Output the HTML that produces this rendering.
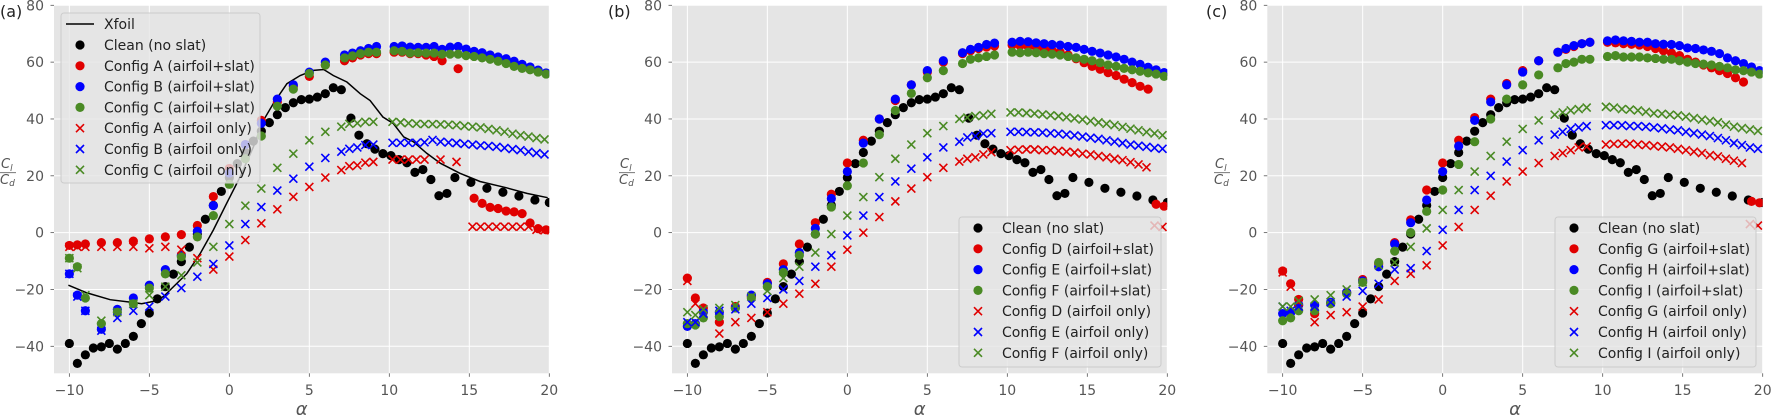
<!DOCTYPE html>
<html><head><meta charset="utf-8"><style>
html,body{margin:0;padding:0;background:#fff;}
svg{display:block;font-family:"DejaVu Sans","Liberation Sans",sans-serif;}
</style></head><body>
<svg id="fig" width="1771" height="418" viewBox="0 0 1771 418" xmlns="http://www.w3.org/2000/svg"></svg>
<script>
// ---- data ----
const alphaClean = [-10,-9.5,-9,-8.5,-8,-7.5,-7,-6.5,-6,-5.5,-5,-4.5,-4,-3.5,-3,-2.5,-2,-1.5,-1,-0.5,0,0.5,1,1.5,2,2.5,3,3.5,4,4.5,5,5.5,6,6.5,7,7.6,8.1,8.6,9.1,9.6,10.1,10.6,11.1,11.6,12.1,12.6,13.1,13.6,14.1,15.1,16.1,17.1,18.1,19.1,20];
const cleanVals = [-39,-46,-43,-40.6,-40.2,-39,-41,-39,-36.5,-32,-28.3,-23.3,-19,-14.6,-10.2,-5.1,-0.5,4.7,9.6,14.5,19.4,24.3,28.2,32.2,35.7,38.7,41.5,44,45.7,46.8,47,47.7,48.9,51,50.3,40.3,34.3,31.3,29.4,27.8,27.1,25.7,24.6,21.2,22.2,18.7,13,13.8,19.4,17.7,15.6,14.2,12.9,11.5,10.6];
const alphaSlat = [-10,-9.5,-9,-8,-7,-6,-5,-4,-3,-2,-1,0,1,2,3,4,5,6,7.2,7.7,8.2,8.7,9.2,10.3,10.8,11.3,11.8,12.3,12.8,13.3,13.8,14.3,14.8,15.3,15.8,16.3,16.8,17.3,17.8,18.3,18.8,19.3,19.8];
const alphaOnly = [-10,-9.5,-9,-8,-7,-6,-5,-4,-3,-2,-1,0,1,2,3,4,5,6,7,7.5,8,8.5,9,10.2,10.7,11.2,11.7,12.2,12.7,13.2,13.7,14.2,14.7,15.2,15.7,16.2,16.7,17.2,17.7,18.2,18.7,19.2,19.7];
const xfoilAlpha = [-10.06,-8.9,-7.45,-6.0,-5.48,-4.75,-4.12,-3.5,-2.66,-1.83,-1.0,-0.17,0.67,1.5,2.13,2.75,3.6,4.43,5.26,5.9,6.5,7.35,8.18,8.8,9.6,10.25,10.9,11.5,12.35,13.2,14.4,15.67,17.3,18.6,19.9];
const xfoilVals = [-18.5,-21.2,-23.6,-24.6,-25.0,-24.2,-22.5,-19.1,-14.4,-7.4,0.9,10.3,19.6,30.1,39.5,45.4,52.4,55.3,57.1,57.4,55.3,53.0,48.9,46.5,40.7,38.4,33.7,32,27.9,24.4,20.9,18,15.8,13.8,12.3];

const a_slatA = [-4.5,-4.3,-4,-3.5,-3.5,-3,-2.2,-1.5,-0.7,2.5,12.7,22.6,31,39.5,46,51.5,55,59,60.5,61.5,62.5,63,63,63.5,63.5,63,63,62.5,62,60.5,null,57.7,null,12.1,10.3,8.9,8.5,7.6,7.3,6.7,3.4,1.4,1.0];
const a_slatB = [-14.5,-22,-27.5,-34,-27,-23,-18.5,-13,-8,0.5,9.5,21,31,38.5,47,52,56.5,60,62.5,63.2,64,64.8,65.5,65.5,65.7,65.3,65.2,65.2,65.5,64.5,65.3,65.5,64.6,63.8,63.3,62.5,61.8,61.2,60.3,59.2,58.3,57.2,56.2];
const a_slatC = [-9,-12,-23,-32,-28,-25,-19.5,-14.5,-8.5,-1.5,6,17,26,34,44.5,50.5,56,59,61.5,62.2,63,63.5,63.5,64,63.8,63.2,63.3,63.2,63.2,62.8,62.8,62.8,62.3,62,61.5,61,60.3,59.5,58.5,57.8,57.3,56.5,55.8];
const a_onlyA = [-5,-5,-5,-5,-5,-5,-5.5,-5,-6,-9,-13,-8.4,-2.6,3.3,8.2,12.6,16.1,19.4,22,23.4,23.7,24.6,24.9,25.7,25.7,25.7,25.7,25.7,null,25.7,null,24.9,null,2.1,2.1,2.1,2.1,2.1,2.1,2.1,2.1,1.0,0.8];
const a_onlyB = [-14.5,-22.5,-27.5,-34.5,-30,-27.5,-26,-22.5,-19.5,-15.5,-11,-4.5,3,9,14.8,19,23.2,26.3,28.5,29.5,30,30.8,31,31.6,31.6,31.6,31.6,31.8,32.6,32,31.7,31.5,31.2,31,30.7,30.5,30.2,29.8,29.4,29,28.5,28,27.5];
const a_onlyC = [-9,-12.5,-22,-31,-28,-25,-22,-19,-15,-10.5,-5,3,9.5,15.5,22.8,27.8,32.5,35.5,37.3,38.3,38.5,39,39,39,38.8,38.5,38.3,38.2,38.2,38.1,38,37.8,37.5,37.3,37,36.5,36,35.5,34.8,34.3,33.8,33.3,32.8];

const b_slatD = [-16,-23,-26.5,-31.5,-26,-22.5,-17.5,-11,-4,3.5,13.5,24.5,32.5,40,46.5,52,56.5,60,63,64,64.8,65.3,65.7,66,65.8,65.5,65.3,64.8,64.2,63.5,62.5,61.2,59.8,58.5,57.5,56.3,55.3,54,52.8,51.5,50.5,10,9.3];
const b_slatE = [-33,-32,-28,-28,-26.5,-22,-18,-13,-7,1.5,12,21.5,31.5,40,47,52,57,60.5,63.3,64.5,65.2,66.2,66.7,67,67.3,67.2,66.8,66.5,66.2,66,65.5,65.2,64.5,63.8,63.2,62.5,61.8,61,60,59.2,58.2,57.3,56.3];
const b_slatF = [-32,-32.5,-30,-29.5,-26.5,-23,-19,-14,-8,-0.5,9,16.5,24.5,34.5,43,49,54.5,57,59.5,61,61.5,62,62.5,63.5,63.3,63.5,63.3,63,62.8,62.5,62,61.5,61,60.5,59.8,59,58.5,57.8,57.3,56.8,56.2,55.8,55];
const b_onlyD = [-17,-25,-27,-35.5,-31.5,-30,-28,-25,-21.5,-18,-12,-6,0,5.5,11,15.5,19.5,22.8,25,26,26.5,27.5,28.3,29,29.2,29.3,29.3,29,29,28.8,28.5,28.2,27.8,27.5,27,26.5,26,25.5,24.8,24,23,2.5,2];
const b_onlyE = [-31.5,-31.5,-28.5,-27.5,-27,-25,-23,-20,-17,-12,-8,-1,6,12.5,18,22.5,26.5,30,32,33.5,34,34.8,35,35.5,35.5,35.4,35.3,35.2,35,34.8,34.5,34.2,33.8,33.4,33,32.5,32,31.5,31,30.6,30.2,29.8,29.5];
const b_onlyF = [-28,-29,-27,-26.5,-25.5,-22.5,-20.5,-16,-12,-7,-0.5,6,12.5,19.5,26,31,35,37.5,40,40.5,41,41.3,41.8,42.3,42.3,42.1,41.9,41.6,41.3,41,40.6,40.2,39.8,39.3,38.8,38.3,37.8,37.2,36.6,36,35.4,34.9,34.3];

const c_slatG = [-13.5,-18,-23.5,-28.5,-25,-21,-16.5,-11,-3.5,4.5,15,24.5,32.5,40.5,47,52.5,57,60.5,63.5,64.5,65.5,66.5,67,67,66.8,66.5,66.3,66,65.5,64.8,64,63.2,62.3,61,60,59,58,57,56,54.5,53,11,10.5];
const c_slatH = [-28.5,-28,-25.5,-25.5,-24.5,-21,-17,-12,-4,3.5,11.5,21.5,30.5,39.5,46,52,56.5,60.5,63.5,64.8,65.8,66.5,67,67.5,67.8,67.5,67.3,67,67,66.5,66.3,66.2,65.8,65,64.8,64.3,63.8,63,61.5,60.5,59.5,58.3,57];
const c_slatI = [-31,-30,-27.5,-27.5,-25,-21.5,-17.5,-10.5,-6.5,0,7.5,15,24,32,40,47,52,55.5,58,59.5,60,61,61,62,62.3,61.8,61.8,61.8,61.5,61.3,61,61,60.5,60,59.5,59.3,59,58.5,58,57.3,57,56.5,55.8];
const c_onlyG = [-14,-19,-24.5,-31.5,-29,-28,-26,-23.5,-17,-14.5,-11.5,-4.5,2,8,13,18,21.5,24.5,27,28,29,30,30.3,31,31.2,31.3,31.3,31,30.8,30.5,30.3,30,29.5,29,28.5,28,27.3,26.8,26,25.3,24.5,3,2.5];
const c_onlyH = [-26,-27.5,-26,-26,-24.5,-22.5,-20.5,-18,-13,-12.5,-6.5,1,8,15,20,25,29,32.5,34.5,35.5,36.5,37,37.5,37.8,37.8,37.8,37.5,37.5,37.3,37,36.7,36.3,36,35.5,35,34.5,34,33.3,32.5,31.5,30.8,30,29.5];
const c_onlyI = [-26,-26,-24,-23.5,-22,-20,-17.5,-11.5,-10.5,-5,1.5,8,15,21.5,27,32,36.5,39.5,41.5,42.3,43,43.5,44,44.3,44,43.5,43.3,43,42.5,42,41.8,41.5,41.3,40.8,40.3,39.8,39.3,38.8,38,37.3,36.8,36.3,35.8];

const xTicks = [-10,-5,0,5,10,15,20];
const yTicks = [-40,-20,0,20,40,60,80];
const labelsA = ["Clean (no slat)","Config A (airfoil+slat)","Config B (airfoil+slat)","Config C (airfoil+slat)","Config A (airfoil only)","Config B (airfoil only)","Config C (airfoil only)"];
const labelsB = ["Clean (no slat)","Config D (airfoil+slat)","Config E (airfoil+slat)","Config F (airfoil+slat)","Config D (airfoil only)","Config E (airfoil only)","Config F (airfoil only)"];
const labelsC = ["Clean (no slat)","Config G (airfoil+slat)","Config H (airfoil+slat)","Config I (airfoil+slat)","Config G (airfoil only)","Config H (airfoil only)","Config I (airfoil only)"];

// ---- drawing ----
const NS = "http://www.w3.org/2000/svg";
const svg = document.getElementById('fig');
const RED = "#e00000", BLUE = "#0000ff", GREEN = "#4a8a24", BLACK = "#000000";
const XMIN = -10.96, XMAX = 20, YMIN = -49.5, YMAX = 80, TOP = 5.3, BOT = 373.3;
function el(tag, attrs, parent){ const e = document.createElementNS(NS, tag); for (const k in attrs) e.setAttribute(k, attrs[k]); (parent||svg).appendChild(e); return e; }
function fmt(v){ return v < 0 ? "\u2212" + Math.abs(v) : String(v); }

function drawPanel(p){
  const g = el('g', {});
  
  
  const xs = a => p.left + (a - XMIN) / (XMAX - XMIN) * (p.right - p.left);
  const ys = v => TOP + (YMAX - v) / (YMAX - YMIN) * (BOT - TOP);
  const bg = el('rect', {x:p.left, y:TOP, width:p.right-p.left, height:BOT-TOP, fill:"#e5e5e5"}, g);
  
  
  const clip = el('clipPath', {id:'clip-' + p.id}, g);
  el('rect', {x:p.left, y:TOP, width:p.right-p.left, height:BOT-TOP}, clip);
  // grid + ticks
  for (const t of xTicks){
    const x = xs(t);
    const gl = el('line', {x1:x, x2:x, y1:TOP, y2:BOT, stroke:"#fff", 'stroke-width':1}, g);
    
    
    el('line', {x1:x, x2:x, y1:BOT, y2:BOT+3.5, stroke:"#555", 'stroke-width':0.8}, g);
    const tl = el('text', {x:x, y:395, 'text-anchor':'middle', 'font-size':14, fill:'#555'}, g);
    tl.textContent = fmt(t);
    
    
  }
  for (const t of yTicks){
    const y = ys(t);
    const gl = el('line', {x1:p.left, x2:p.right, y1:y, y2:y, stroke:"#fff", 'stroke-width':1}, g);
    
    
    el('line', {x1:p.left-3.5, x2:p.left, y1:y, y2:y, stroke:"#555", 'stroke-width':0.8}, g);
    const tl = el('text', {x:p.left-10, y:y+5, 'text-anchor':'end', 'font-size':14, fill:'#555'}, g);
    tl.textContent = fmt(t);
    
    
  }
  const data = el('g', {'clip-path':'url(#clip-' + p.id + ')'}, g);
  
  
  if (p.xfoil){
    let d = "";
    xfoilAlpha.forEach((a,i) => { d += (i ? "L" : "M") + xs(a).toFixed(1) + "," + ys(xfoilVals[i]).toFixed(1); });
    const ln = el('path', {d:d, fill:'none', stroke:'#000', 'stroke-width':1.5}, data);
    
    
  }
  for (const s of p.series){
    const sg = el('g', {}, data);
    
    
    s.vals.forEach((v,i) => {
      if (v === null) return;
      const cx = xs(s.alpha[i]), cy = ys(v);
      if (s.marker === 'o'){
        const c = el('circle', {cx:cx, cy:cy, r:4.6, fill:s.color}, sg);
        
        
      } else {
        const m = el('path', {d:`M${cx-4},${cy-4}L${cx+4},${cy+4}M${cx-4},${cy+4}L${cx+4},${cy-4}`, stroke:s.color, 'stroke-width':1.6, fill:'none'}, sg);
        
        
      }
    });
  }
  // legend
  const L = p.legend;
  const lg = el('g', {}, g);
  
  
  el('rect', {x:L.x, y:L.y, width:L.w, height:L.h, rx:3, fill:'#e5e5e5', 'fill-opacity':0.8, stroke:'#cccccc', 'stroke-width':1}, lg);
  let row = L.y + 16;
  if (p.xfoil){
    el('line', {x1:L.x+5, x2:L.x+33, y1:row-5, y2:row-5, stroke:'#000', 'stroke-width':1.5}, lg);
    const t = el('text', {x:L.x+43, y:row, 'font-size':14, fill:'#222'}, lg);
    t.textContent = 'Xfoil';
    
    
    row += 21;
  }
  p.series.forEach((s,i) => {
    const mx = L.x + 19, my = row - 5;
    if (s.marker === 'o') el('circle', {cx:mx, cy:my, r:4.6, fill:s.color}, lg);
    else el('path', {d:`M${mx-4},${my-4}L${mx+4},${my+4}M${mx-4},${my+4}L${mx+4},${my-4}`, stroke:s.color, 'stroke-width':1.6}, lg);
    const t = el('text', {x:L.x+43, y:row, 'font-size':14, fill:'#222'}, lg);
    t.textContent = p.labels[i];
    
    
    row += 20.8;
  });
  // axis labels
  const xl = el('text', {x:(p.left+p.right)/2, y:415, 'text-anchor':'middle', 'font-size':18, 'font-style':'italic', fill:'#555'}, g);
  xl.textContent = '\u03b1';
  
  
  const yg = el('g', {}, g);
  
  
  const cx = p.ylab;
  const t1 = el('text', {x:cx-7, y:168, 'font-size':13, 'font-style':'italic', fill:'#555'}, yg);
  t1.textContent = 'C';
  const s1 = el('tspan', {'font-size':9, dy:3}, t1); s1.textContent = 'l';
  el('line', {x1:cx-8, x2:cx+8, y1:172.7, y2:172.7, stroke:'#555', 'stroke-width':0.8}, yg);
  const t2 = el('text', {x:cx-8, y:184, 'font-size':13, 'font-style':'italic', fill:'#555'}, yg);
  t2.textContent = 'C';
  const s2 = el('tspan', {'font-size':9, dy:2}, t2); s2.textContent = 'd';
  const pl = el('text', {x:p.plx, y:17, 'font-size':16, fill:'#222'}, g);
  pl.textContent = '(' + p.id + ')';
  
  
}

function mkSeries(prefix, vals){
  return [
    {name:'clean-series', alpha:alphaClean, vals:cleanVals, color:BLACK, marker:'o'},
    {name:prefix[0]+'-slat-series', alpha:alphaSlat, vals:vals[0], color:RED, marker:'o'},
    {name:prefix[1]+'-slat-series', alpha:alphaSlat, vals:vals[1], color:BLUE, marker:'o'},
    {name:prefix[2]+'-slat-series', alpha:alphaSlat, vals:vals[2], color:GREEN, marker:'o'},
    {name:prefix[0]+'-airfoil-only-series', alpha:alphaOnly, vals:vals[3], color:RED, marker:'x'},
    {name:prefix[1]+'-airfoil-only-series', alpha:alphaOnly, vals:vals[4], color:BLUE, marker:'x'},
    {name:prefix[2]+'-airfoil-only-series', alpha:alphaOnly, vals:vals[5], color:GREEN, marker:'x'}
  ];
}

drawPanel({id:'a', left:54, right:549.3, xfoil:true, ylab:8, plx:0,
  series:mkSeries(['config-a','config-b','config-c'],[a_slatA,a_slatB,a_slatC,a_onlyA,a_onlyB,a_onlyC]),
  labels:labelsA, legend:{x:61, y:13, w:199, h:170}});
drawPanel({id:'b', left:672, right:1167.3, xfoil:false, ylab:627, plx:608,
  series:mkSeries(['config-d','config-e','config-f'],[b_slatD,b_slatE,b_slatF,b_onlyD,b_onlyE,b_onlyF]),
  labels:labelsB, legend:{x:959, y:217, w:202, h:150}});
drawPanel({id:'c', left:1267.3, right:1762.7, xfoil:false, ylab:1222, plx:1206,
  series:mkSeries(['config-g','config-h','config-i'],[c_slatG,c_slatH,c_slatI,c_onlyG,c_onlyH,c_onlyI]),
  labels:labelsC, legend:{x:1555, y:217, w:201, h:150}});
</script>
</body></html>
